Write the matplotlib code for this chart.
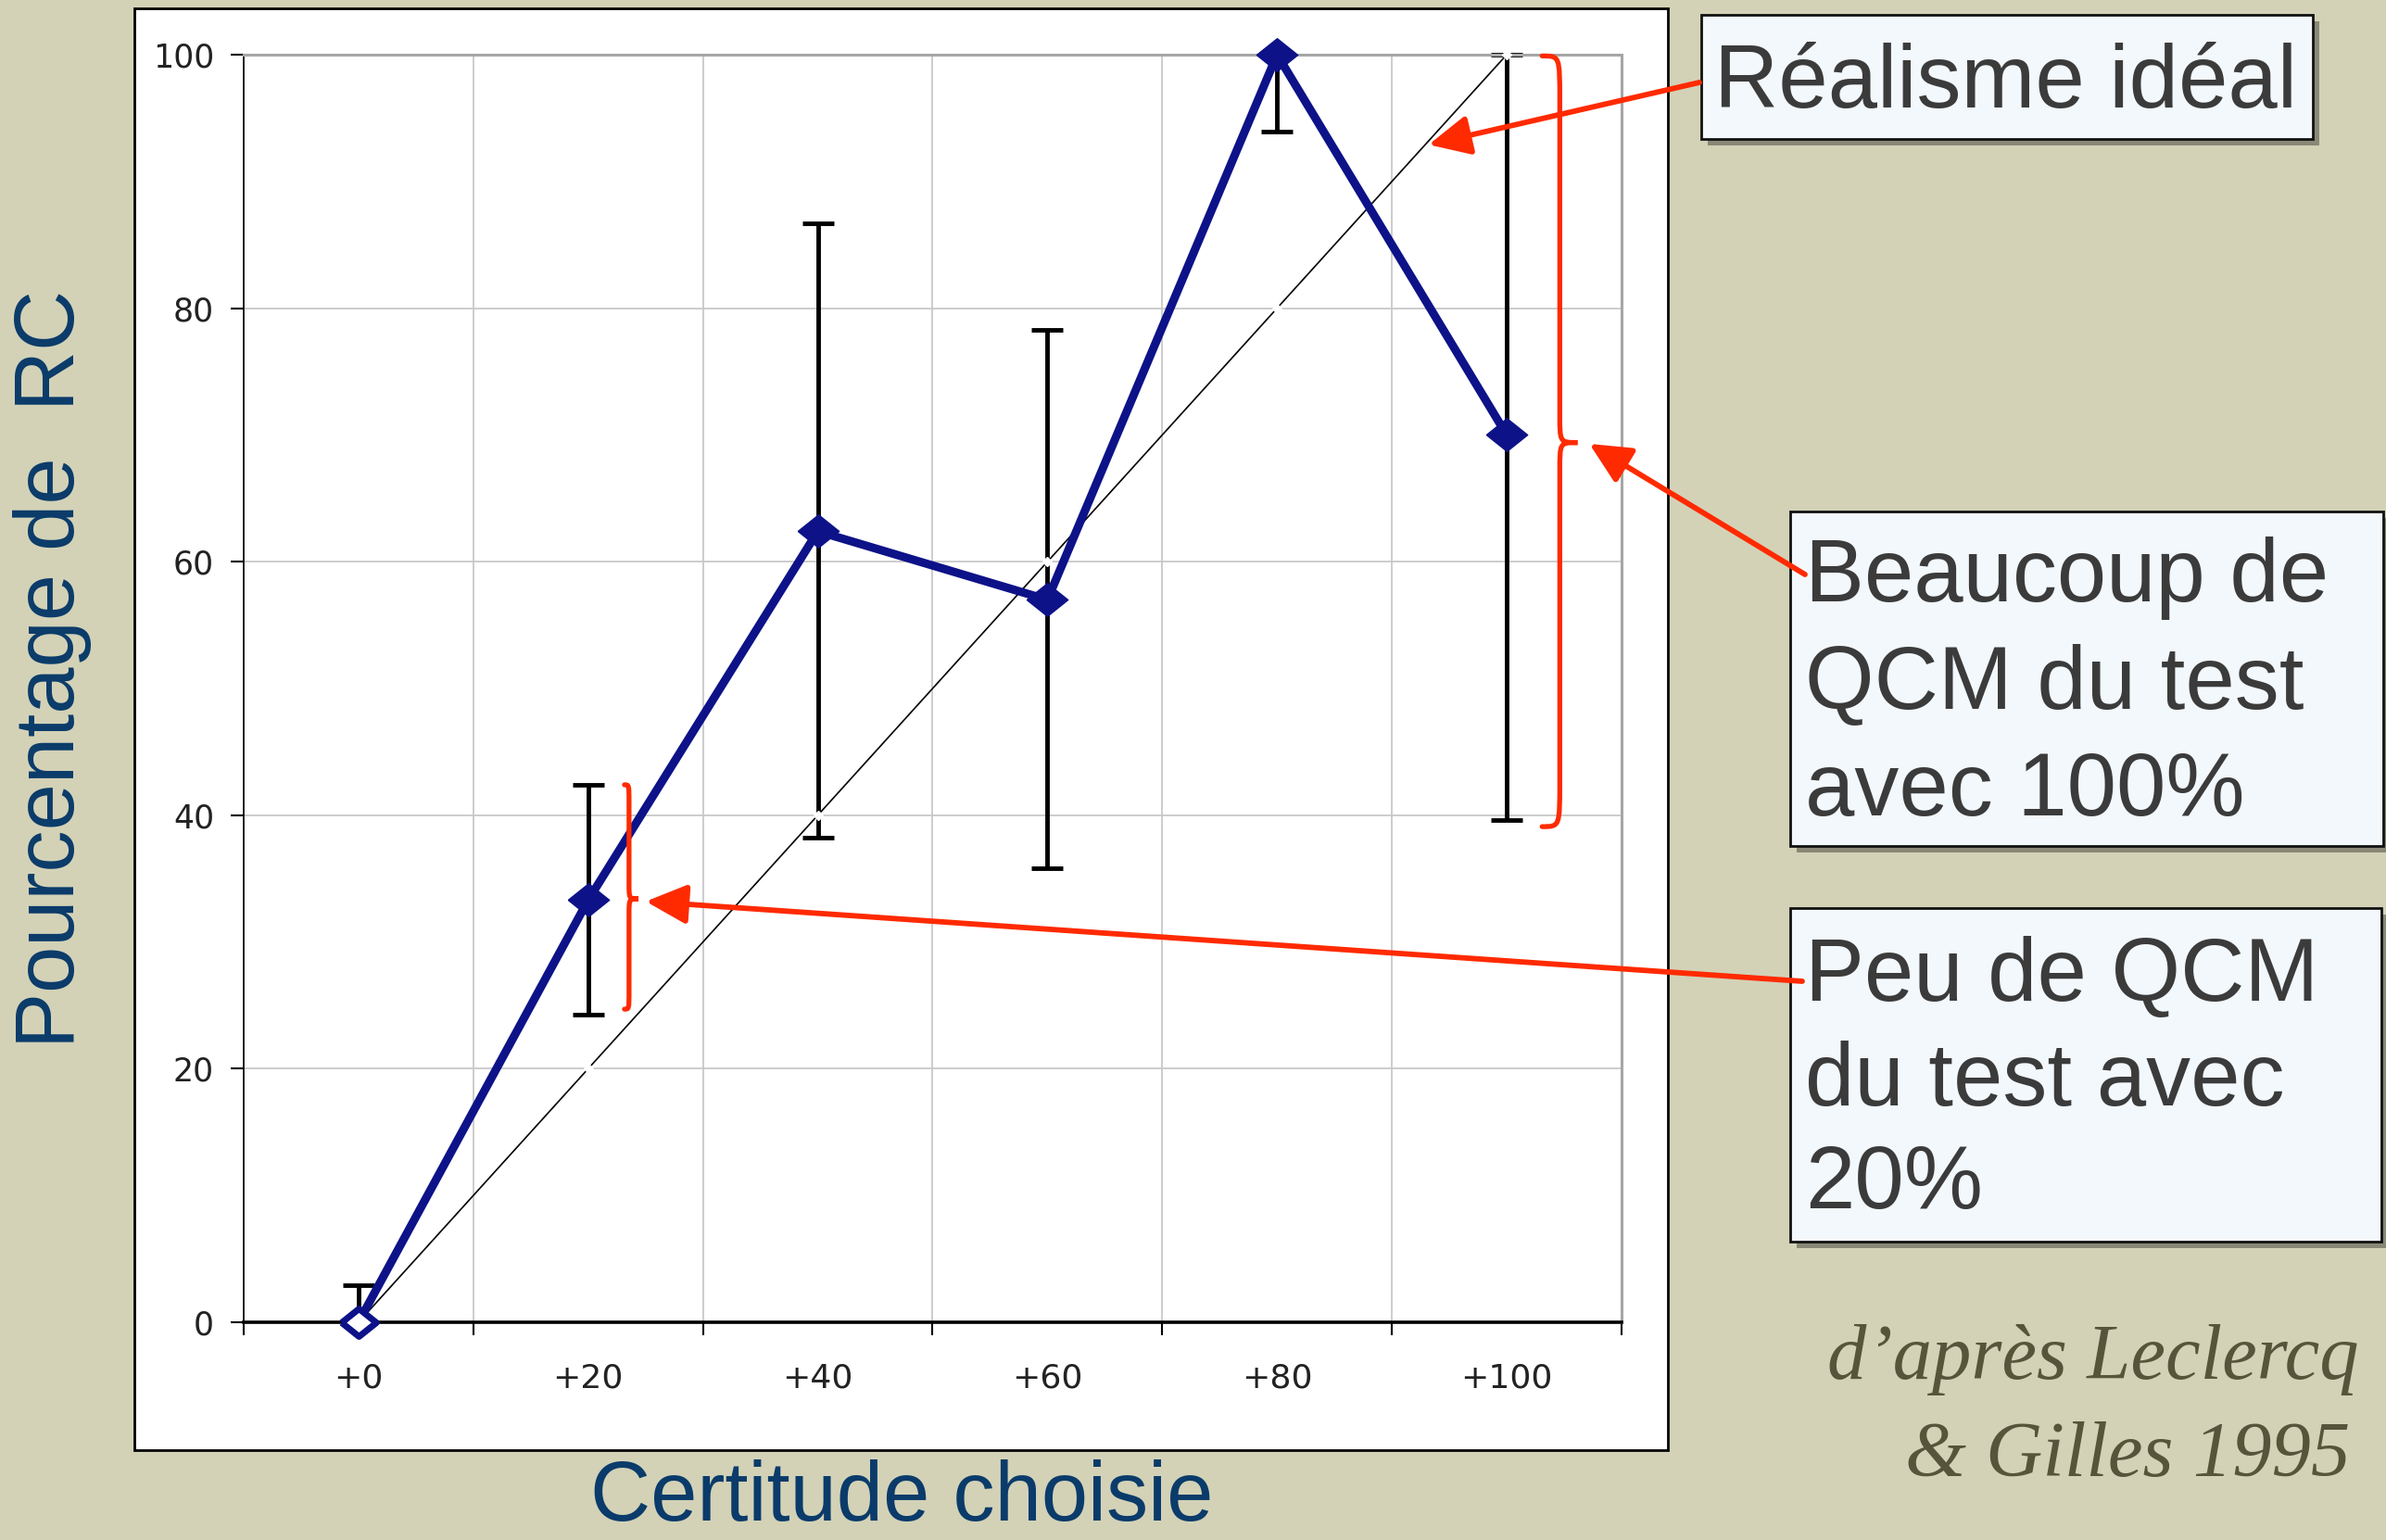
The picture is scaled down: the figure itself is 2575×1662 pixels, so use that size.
import matplotlib.pyplot as plt
from matplotlib.patches import Rectangle, PathPatch
from matplotlib.path import Path

# --- data
categories = ["+0", "+20", "+40", "+60", "+80", "+100"]
pct_rc = [0, 33.3, 62.4, 57.0, 100, 70.0]
err_low = [0, 24.3, 38.2, 35.8, 93.9, 39.6]
err_high = [2.9, 42.4, 86.7, 78.3, 100, 100]
ideal = [0, 20, 40, 60, 80, 100]

# --- annotation texts
box_ideal = ["Réalisme idéal"]
box_many = ["Beaucoup de", "QCM du test", "avec 100%"]
box_few = ["Peu de QCM", "du test avec", "20%"]
source = ["d\u2019après Leclercq", "& Gilles 1995"]

W, H = 2575, 1662
BLUE = "#0d1288"
RED = "#ff2a00"
TITLE_BLUE = "#0a3b6a"


def fx(px):
    return px / W


def fy(py):
    return 1 - py / H


fig = plt.figure(figsize=(W / 100, H / 100), dpi=100)
fig.patch.set_facecolor("#d3d2b7")

# white chart frame
fig.patches.append(Rectangle((fx(145), fy(1565)), fx(1800) - fx(145), fy(9) - fy(1565),
                             transform=fig.transFigure, facecolor="white",
                             edgecolor="black", lw=2, zorder=-1))

ax = fig.add_axes([fx(263), fy(1427), fx(1750) - fx(263), fy(59) - fy(1427)])
ax.set_zorder(2)
x = list(range(len(categories)))

lower = [v - lo for v, lo in zip(pct_rc, err_low)]
upper = [hi - v for v, hi in zip(pct_rc, err_high)]
ax.errorbar(x, pct_rc, yerr=[lower, upper], fmt="none", ecolor="black",
            elinewidth=3.5, capsize=12, capthick=3.5, zorder=2, clip_on=False)

ax.plot(x, ideal, color="black", lw=1.2, marker="D", ms=5, mfc="white",
        mec="white", zorder=3, clip_on=False)

diamond = [(-1, 0), (0, 0.8), (1, 0), (0, -0.8), (-1, 0)]
ax.plot(x, pct_rc, color=BLUE, lw=6.5, zorder=4, clip_on=False)
ax.plot(x[1:], pct_rc[1:], ls="none", marker=diamond, ms=32, mfc=BLUE, mec=BLUE,
        zorder=5, clip_on=False)
ax.plot(x[:1], pct_rc[:1], ls="none", marker=diamond, ms=27, mfc="white", mec=BLUE,
        mew=5, zorder=5, clip_on=False)

ax.set_xlim(-0.5, 5.5)
ax.set_ylim(0, 100)
ax.set_xticks([i - 0.5 for i in range(len(categories) + 1)])
ax.set_xticklabels([])
ax.set_xticks(x, minor=True)
ax.set_xticklabels(categories, minor=True)
ax.tick_params(axis="x", which="major", length=10, width=1.5, direction="out")
ax.tick_params(axis="x", which="minor", length=0, pad=31, labelsize=26, labelcolor="#222222")
ax.set_yticks(range(0, 101, 20))
ax.tick_params(axis="y", length=10, width=1.5, pad=13, labelsize=25, labelcolor="#222222")
ax.grid(True, which="major", color="#c8c8c8", lw=1.3)
ax.set_axisbelow(True)
for side in ["top", "right"]:
    ax.spines[side].set_color("#a6a6a6")
    ax.spines[side].set_linewidth(2.2)
ax.spines["left"].set_linewidth(1.2)
ax.spines["bottom"].set_linewidth(2.6)


def brace(x_end, x_mid, x_tip, y_top, y_bot, y_tip, h_end, h_tip):
    verts = [(x_end, y_top),
             (x_mid, y_top), (x_mid, y_top), (x_mid, y_top - h_end),
             (x_mid, y_tip + h_tip),
             (x_mid, y_tip), (x_mid, y_tip), (x_tip, y_tip),
             (x_mid, y_tip), (x_mid, y_tip), (x_mid, y_tip - h_tip),
             (x_mid, y_bot + h_end),
             (x_mid, y_bot), (x_mid, y_bot), (x_end, y_bot)]
    codes = [Path.MOVETO] + [Path.CURVE4] * 3 + [Path.LINETO] + [Path.CURVE4] * 6 \
        + [Path.LINETO] + [Path.CURVE4] * 3
    ax.add_patch(PathPatch(Path(verts, codes), fill=False, edgecolor=RED, lw=3.8,
                           zorder=6, clip_on=False, capstyle="round"))


brace(1.158, 1.178, 1.219, 42.4, 24.7, 33.4, 1.5, 1.2)
brace(5.154, 5.231, 5.308, 99.9, 39.1, 69.4, 3.5, 2.2)

arrow = dict(arrowstyle="-|>,head_length=1.35,head_width=0.65", color=RED, lw=4.2,
             shrinkA=0, shrinkB=0, mutation_scale=20)
ax.annotate("", xy=(4.66, 92.9), xytext=(fx(1834), fy(89)), textcoords="figure fraction",
            arrowprops=arrow, annotation_clip=False)
ax.annotate("", xy=(5.36, 69.3), xytext=(fx(1948), fy(620)), textcoords="figure fraction",
            arrowprops=arrow, annotation_clip=False)
ax.annotate("", xy=(1.251, 33.2), xytext=(fx(1945), fy(1059)), textcoords="figure fraction",
            arrowprops=arrow, annotation_clip=False)


def text_box(x0, y0, x1, y1, lines, tx, baselines):
    fig.patches.append(Rectangle((fx(x0 + 7), fy(y1 + 7)), fx(x1) - fx(x0), fy(y0) - fy(y1),
                                 transform=fig.transFigure, facecolor="black",
                                 alpha=0.35, lw=0, zorder=0.5))
    fig.patches.append(Rectangle((fx(x0), fy(y1)), fx(x1) - fx(x0), fy(y0) - fy(y1),
                                 transform=fig.transFigure, facecolor="#f2f8fc",
                                 edgecolor="#111111", lw=2, zorder=1))
    for line, b in zip(lines, baselines):
        fig.text(fx(tx), fy(b), line, ha="left", va="baseline", fontsize=69,
                 family="Liberation Sans", color="#3b3b3b", zorder=3)


text_box(1836, 16, 2496, 150, box_ideal, 1850, [116])
text_box(1932, 552, 2572, 913, box_many, 1948, [649, 765, 880])
text_box(1932, 980, 2570, 1340, box_few, 1948, [1080, 1193, 1304])

fig.text(fx(2546), fy(1488), source[0], ha="right", va="baseline", fontsize=61,
         family="Liberation Serif", style="italic", color="#56553b")
fig.text(fx(2536), fy(1593), source[1], ha="right", va="baseline", fontsize=61,
         family="Liberation Serif", style="italic", color="#56553b")

fig.text(fx(57), fy(722), "Pourcentage de  RC", rotation=90, ha="center", va="center",
         fontsize=65, family="Liberation Sans", color=TITLE_BLUE)
fig.text(fx(973), fy(1641), "Certitude choisie", ha="center", va="baseline",
         fontsize=65, family="Liberation Sans", color=TITLE_BLUE)

fig.savefig("out.png", dpi=100, facecolor=fig.get_facecolor())
